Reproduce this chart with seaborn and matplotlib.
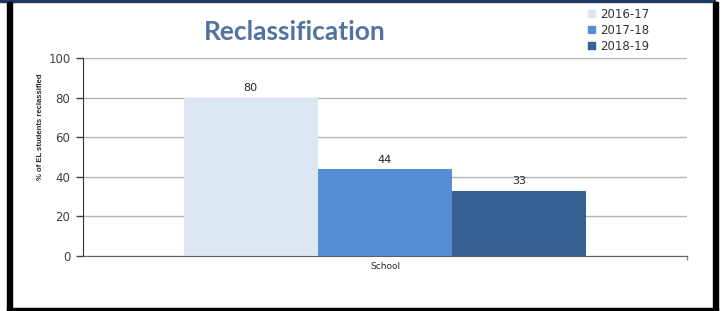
import matplotlib
matplotlib.use("Agg")
import matplotlib.pyplot as plt
import pandas as pd
import seaborn as sns
from matplotlib.patches import Rectangle

years = ["2016-17", "2017-18", "2018-19"]
groups = ["School", "School", "School"]
pct_reclassified = [80, 44, 33]
bar_colors = ["#DCE6F2", "#558ED5", "#376092"]
y_ticks = [0, 20, 40, 60, 80, 100]

W, H = 726, 311

sns.set_style("white")
plt.rcParams["font.family"] = ["DejaVu Sans"]

df = pd.DataFrame({"group": groups, "year": years, "pct": pct_reclassified})

fig = plt.figure(figsize=(W / 100, H / 100), dpi=100)
ax = fig.add_axes([83 / W, 1 - 256 / H, (687 - 83) / W, (256 - 58) / H])

sns.barplot(data=df, x="group", y="pct", hue="year", palette=bar_colors,
            width=0.667, saturation=1, ax=ax, legend=False, linewidth=0)

ax.set_ylim(0, 100)
ax.set_xlim(-0.5, 0.5)
ax.set_yticks(y_ticks)
ax.set_yticklabels([str(t) for t in y_ticks], fontsize=8.5, color="#404040")
ax.tick_params(axis="y", length=5, width=1, color="#404040", pad=4, left=True)
ax.tick_params(axis="x", which="major", length=0, labelsize=6.5, pad=4)
ax.set_xticks([0.5], minor=True)
ax.tick_params(axis="x", which="minor", length=3, width=1, color="#808080", bottom=True)
ax.yaxis.grid(True, color="#B3B3B3", linewidth=1)
ax.set_axisbelow(True)
for side in ["top", "right"]:
    ax.spines[side].set_visible(False)
ax.spines["left"].set_color("#303030")
ax.spines["bottom"].set_color("#606060")
ax.set_xlabel("")
ax.set_ylabel("")

for cont in ax.containers:
    ax.bar_label(cont, fmt="%d", padding=3, fontsize=8, color="#222222")

fig.text(41 / W, 1 - 127 / H, "% of EL students reclassified", rotation=90,
         ha="center", va="center", fontsize=5.5, fontweight="bold",
         family=["Liberation Sans Narrow", "Liberation Sans", "DejaVu Sans"])

fig.text(295 / W, 1 - 32 / H, "Reclassification", ha="center", va="center",
         fontsize=19, fontweight="bold", color="#5273A0", family=["Lato", "DejaVu Sans"])

handles = [Rectangle((0, 0), 1, 1, color=c) for c in bar_colors]
leg = fig.legend(handles, years, loc="upper left", bbox_to_anchor=(588 / W, 1 - 8 / H),
                 frameon=False, fontsize=8.5, handlelength=0.6, handleheight=0.55,
                 handletextpad=0.45, labelspacing=0.25, borderaxespad=0, borderpad=0)
for t in leg.get_texts():
    t.set_color("#333333")

# frame borders of the original slide
def px_rect(x0, y0, x1, y1, color):
    fig.patches.append(Rectangle((x0 / W, 1 - y1 / H), (x1 - x0) / W, (y1 - y0) / H,
                                 transform=fig.transFigure, color=color, zorder=10))

px_rect(0, 0, 715, 2, "#1F3864")
px_rect(7, 2, 12, 311, "#000000")
px_rect(713, 2, 718, 311, "#000000")
px_rect(7, 308, 718, 311, "#000000")

fig.savefig("out.png", dpi=100)
plt.close(fig)
